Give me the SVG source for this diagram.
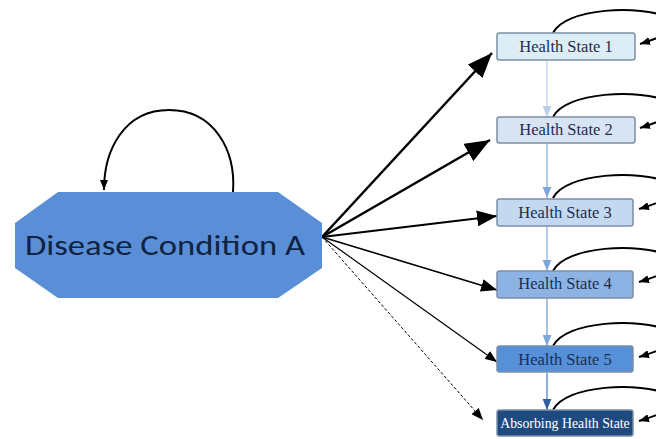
<svg xmlns="http://www.w3.org/2000/svg" width="656" height="439" viewBox="0 0 656 439">
<style>
.box{stroke:#7b8fa6;stroke-width:1.5}
.lbl{font-family:"Liberation Serif","Times New Roman",serif;font-size:16.5px;fill:#1c2f52;text-anchor:middle}
.big{stroke:#000;fill:none}
.loop{stroke:#000;stroke-width:2;fill:none}
.down{stroke-width:1.6;fill:none}
</style>
<defs>
<marker id="ah" viewBox="0 0 10 8" refX="10" refY="4" markerWidth="10" markerHeight="8" orient="auto"><path d="M0,0 L10,4 L0,8 z" fill="#000"/></marker>
<marker id="ahs" viewBox="0 0 10 8" refX="10" refY="4" markerWidth="10" markerHeight="8" markerUnits="userSpaceOnUse" orient="auto"><path d="M0,0 L10,4 L0,8 z" fill="#000"/></marker>
<marker id="ahd" viewBox="0 0 10 8" refX="10" refY="4" markerWidth="12" markerHeight="10" markerUnits="userSpaceOnUse" orient="auto"><path d="M0,0 L10,4 L0,8 z" fill="#000"/></marker>
<marker id="av1" viewBox="0 0 10 8" refX="10" refY="4" markerWidth="11" markerHeight="10" markerUnits="userSpaceOnUse" orient="auto"><path d="M0,0 L10,4 L0,8 z" fill="#b9cfe9"/></marker>
<marker id="av2" viewBox="0 0 10 8" refX="10" refY="4" markerWidth="11" markerHeight="10" markerUnits="userSpaceOnUse" orient="auto"><path d="M0,0 L10,4 L0,8 z" fill="#7fa7da"/></marker>
<marker id="av3" viewBox="0 0 10 8" refX="10" refY="4" markerWidth="11" markerHeight="10" markerUnits="userSpaceOnUse" orient="auto"><path d="M0,0 L10,4 L0,8 z" fill="#2f5f9e"/></marker>
</defs>
<rect width="656" height="439" fill="#fff"/>

<g id="connectors">
<path class="loop" d="M233,192 C236,150 214,110 169,110 C124,110 104,150 104,190" marker-end="url(#ahs)"/>
<line class="big" x1="322" y1="237" x2="492" y2="53" stroke-width="2.5" marker-end="url(#ah)"/>
<line class="big" x1="322" y1="237" x2="490" y2="140" stroke-width="2.5" marker-end="url(#ah)"/>
<line class="big" x1="322" y1="237" x2="497" y2="216" stroke-width="2" marker-end="url(#ah)"/>
<line class="big" x1="322" y1="237" x2="497" y2="290" stroke-width="1.6" marker-end="url(#ah)"/>
<line class="big" x1="322" y1="237" x2="497" y2="362" stroke-width="1.2" marker-end="url(#ah)"/>
<line class="big" x1="322" y1="237" x2="483" y2="420" stroke-width="1" stroke-dasharray="3,2" marker-end="url(#ahd)"/>
<line class="down" x1="547" y1="61" x2="547" y2="117" stroke="#c9dbf0" marker-end="url(#av1)"/>
<line class="down" x1="547" y1="144" x2="547" y2="198" stroke="#9fc0e6" marker-end="url(#av2)"/>
<line class="down" x1="547" y1="227" x2="547" y2="271" stroke="#9fc0e6" marker-end="url(#av2)"/>
<line class="down" x1="547" y1="299" x2="547" y2="346" stroke="#8db3e2" marker-end="url(#av2)"/>
<line class="down" x1="547" y1="373" x2="547" y2="410" stroke="#6f9bd3" marker-end="url(#av3)"/>
<path class="loop" d="M553,33 C565,8 640,4 670,18 C680,30 665,36 640,44" marker-end="url(#ahs)"/>
<path class="loop" d="M553,117 C565,92 640,88 670,102 C680,114 665,120 640,128" marker-end="url(#ahs)"/>
<path class="loop" d="M553,198 C565,173 640,169 670,183 C680,195 665,201 639,209" marker-end="url(#ahs)"/>
<path class="loop" d="M553,271 C565,246 640,242 670,256 C680,268 665,274 639,282" marker-end="url(#ahs)"/>
<path class="loop" d="M553,346 C565,321 640,317 670,331 C680,343 665,349 639,357" marker-end="url(#ahs)"/>
<path class="loop" d="M553,410 C565,385 640,381 670,395 C680,407 665,413 639,421" marker-end="url(#ahs)"/>
</g>

<g id="disease">
<polygon points="58,192 278,192 322,223 322,268 278,298 58,298 15,268 15,223" fill="#5a8fd8"/>
<text x="165" y="255" font-family="Calibri,'Open Sans','Liberation Sans',sans-serif" font-size="28" fill="#0f2342" text-anchor="middle" textLength="280" lengthAdjust="spacingAndGlyphs">Disease Condition A</text>
</g>

<g id="hs1">
<rect class="box" x="497" y="33" width="138" height="27" rx="2.5" fill="#dcedf5"/>
<text class="lbl" x="566" y="52">Health State 1</text>
</g>
<g id="hs2">
<rect class="box" x="497" y="117" width="138" height="26" rx="2.5" fill="#d8e4f3"/>
<text class="lbl" x="566" y="135">Health State 2</text>
</g>
<g id="hs3">
<rect class="box" x="497" y="199" width="136" height="27" rx="2.5" fill="#c4d8f0"/>
<text class="lbl" x="565" y="218">Health State 3</text>
</g>
<g id="hs4">
<rect class="box" x="497" y="271" width="136" height="27" rx="2.5" fill="#8cb3e3"/>
<text class="lbl" x="565" y="289">Health State 4</text>
</g>
<g id="hs5">
<rect class="box" x="497" y="346" width="136" height="26" rx="2.5" fill="#5590d8" stroke="#3e6596"/>
<text class="lbl" x="565" y="365">Health State 5</text>
</g>
<g id="absorbing">
<rect class="box" x="497" y="410" width="136" height="26" rx="2.5" fill="#1f4a80" stroke="#173a64"/>
<text class="lbl" x="565" y="428" style="fill:#ffffff;font-size:13.8px">Absorbing Health State</text>
</g>
</svg>
